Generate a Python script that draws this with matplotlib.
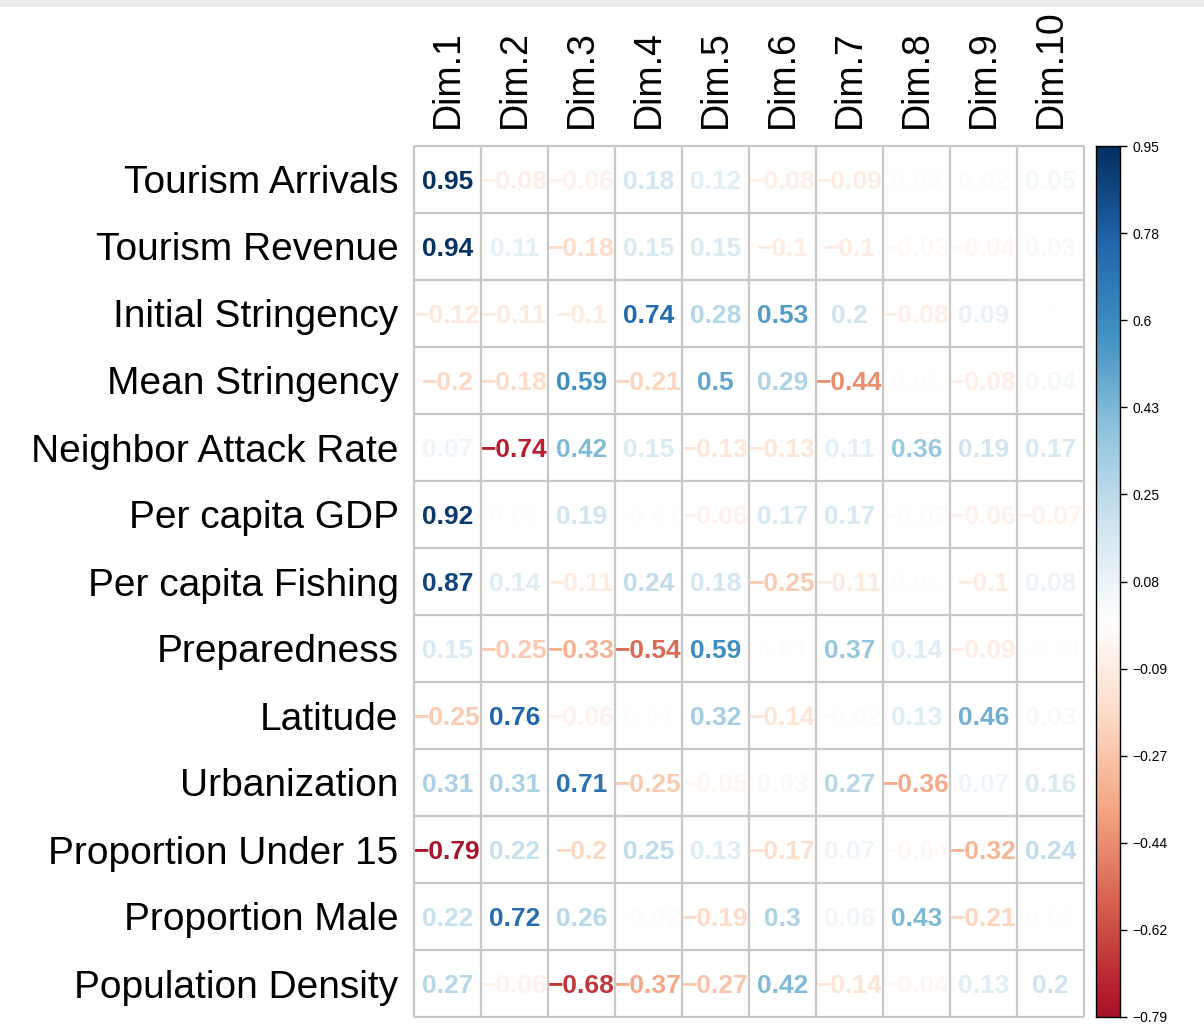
import numpy as np
import matplotlib
matplotlib.use('Agg')
from matplotlib import pyplot as plt
from matplotlib.colors import LinearSegmentedColormap, Normalize
from matplotlib.patches import Rectangle

plt.rcParams['font.family'] = ['Liberation Sans', 'DejaVu Sans']

variables = ['Tourism Arrivals', 'Tourism Revenue', 'Initial Stringency',
             'Mean Stringency', 'Neighbor Attack Rate', 'Per capita GDP',
             'Per capita Fishing', 'Preparedness', 'Latitude', 'Urbanization',
             'Proportion Under 15', 'Proportion Male', 'Population Density']
dims = ['Dim.%d' % i for i in range(1, 11)]

# one row of loadings per variable, Dim.1 .. Dim.10
tourism_arrivals = [0.95, -0.08, -0.06, 0.18, 0.12, -0.08, -0.09, 0.02, 0.02, 0.05]
tourism_revenue = [0.94, 0.11, -0.18, 0.15, 0.15, -0.1, -0.1, -0.03, -0.04, 0.03]
initial_stringency = [-0.12, -0.11, -0.1, 0.74, 0.28, 0.53, 0.2, -0.08, 0.09, 0.0]
mean_stringency = [-0.2, -0.18, 0.59, -0.21, 0.5, 0.29, -0.44, 0.01, -0.08, 0.04]
neighbor_attack = [0.07, -0.74, 0.42, 0.15, -0.13, -0.13, 0.11, 0.36, 0.19, 0.17]
gdp = [0.92, 0.01, 0.19, -0.01, -0.06, 0.17, 0.17, -0.02, -0.06, -0.07]
fishing = [0.87, 0.14, -0.11, 0.24, 0.18, -0.25, -0.11, 0.01, -0.1, 0.08]
preparedness = [0.15, -0.25, -0.33, -0.54, 0.59, 0.01, 0.37, 0.14, -0.09, -0.01]
latitude = [-0.25, 0.76, -0.06, 0.01, 0.32, -0.14, -0.02, 0.13, 0.46, 0.03]
urbanization = [0.31, 0.31, 0.71, -0.25, -0.05, 0.03, 0.27, -0.36, 0.07, 0.16]
under15 = [-0.79, 0.22, -0.2, 0.25, 0.13, -0.17, 0.07, -0.04, -0.32, 0.24]
male = [0.22, 0.72, 0.26, -0.02, -0.19, 0.3, 0.06, 0.43, -0.21, 0.01]
density = [0.27, -0.06, -0.68, -0.37, -0.27, 0.42, -0.14, -0.04, 0.13, 0.2]

loadings = np.array([tourism_arrivals, tourism_revenue, initial_stringency,
                     mean_stringency, neighbor_attack, gdp, fishing,
                     preparedness, latitude, urbanization, under15, male,
                     density])

# corrplot's RdBu palette
rdbu = ['#67001F', '#B2182B', '#D6604D', '#F4A582', '#FDDBC7', '#FFFFFF',
        '#D1E5F0', '#92C5DE', '#4393C3', '#2166AC', '#053061']
cmap = LinearSegmentedColormap.from_list('corr_rdbu', rdbu)
vmin, vmax = loadings.min(), loadings.max()
lim = max(abs(vmin), abs(vmax))
the_norm = Normalize(vmin=-lim, vmax=lim)

W, H = 1204, 1026
fig = plt.figure(figsize=(W / 100, H / 100), dpi=100)

# light strip along the top edge
fig.patches.append(Rectangle((0, 1 - 7 / H), 1, 7 / H, transform=fig.transFigure,
                             facecolor='#ebebeb', edgecolor='none', zorder=0))

nrow, ncol = loadings.shape
left, right, top, bottom = 414, 1084, 146, 1017
ax = fig.add_axes([left / W, 1 - bottom / H, (right - left) / W, (bottom - top) / H])
ax.set_xlim(0, ncol)
ax.set_ylim(nrow, 0)
for s in ax.spines.values():
    s.set_visible(False)

grid_col = '#c8c8c8'
ax.vlines(np.arange(ncol + 1), 0, nrow, color=grid_col, lw=1.6, clip_on=False)
ax.hlines(np.arange(nrow + 1), 0, ncol, color=grid_col, lw=1.6, clip_on=False)

for i in range(nrow):
    for j in range(ncol):
        v = round(loadings[i, j], 2)
        txt = ('%g' % v).replace('-', '\u2212')
        if txt == '\u22120':
            txt = '0'
        ax.text(j + 0.5, i + 0.5, txt, ha='center', va='center_baseline',
                fontsize=19, fontweight='bold', color=cmap(the_norm(v)))

ax.set_yticks(np.arange(nrow) + 0.5)
ax.set_yticklabels(variables, fontsize=28, va='center_baseline')
ax.xaxis.tick_top()
ax.set_xticks(np.arange(ncol) + 0.5)
ax.set_xticklabels(dims, fontsize=27, rotation=90, va='bottom')
ax.tick_params(axis='y', length=0, pad=11)
ax.tick_params(axis='x', length=0, pad=13)

# colour legend
cax = fig.add_axes([1096 / W, 1 - bottom / H, 24 / W, (bottom - top) / H])
grad = np.linspace(vmin, vmax, 400).reshape(-1, 1)
cax.imshow(grad, cmap=cmap, norm=the_norm, aspect='auto', origin='lower',
           extent=[0, 1, vmin, vmax])
cax.set_xticks([])
ticks = np.linspace(vmin, vmax, 11)
cax.yaxis.tick_right()
cax.set_yticks(ticks)
cax.set_yticklabels([('%g' % round(t, 2)).replace('-', '\u2212') for t in ticks],
                    fontsize=10)
cax.tick_params(axis='y', length=5, width=1, pad=4)
for s in cax.spines.values():
    s.set_linewidth(1)

fig.savefig('out.png', dpi=100)
